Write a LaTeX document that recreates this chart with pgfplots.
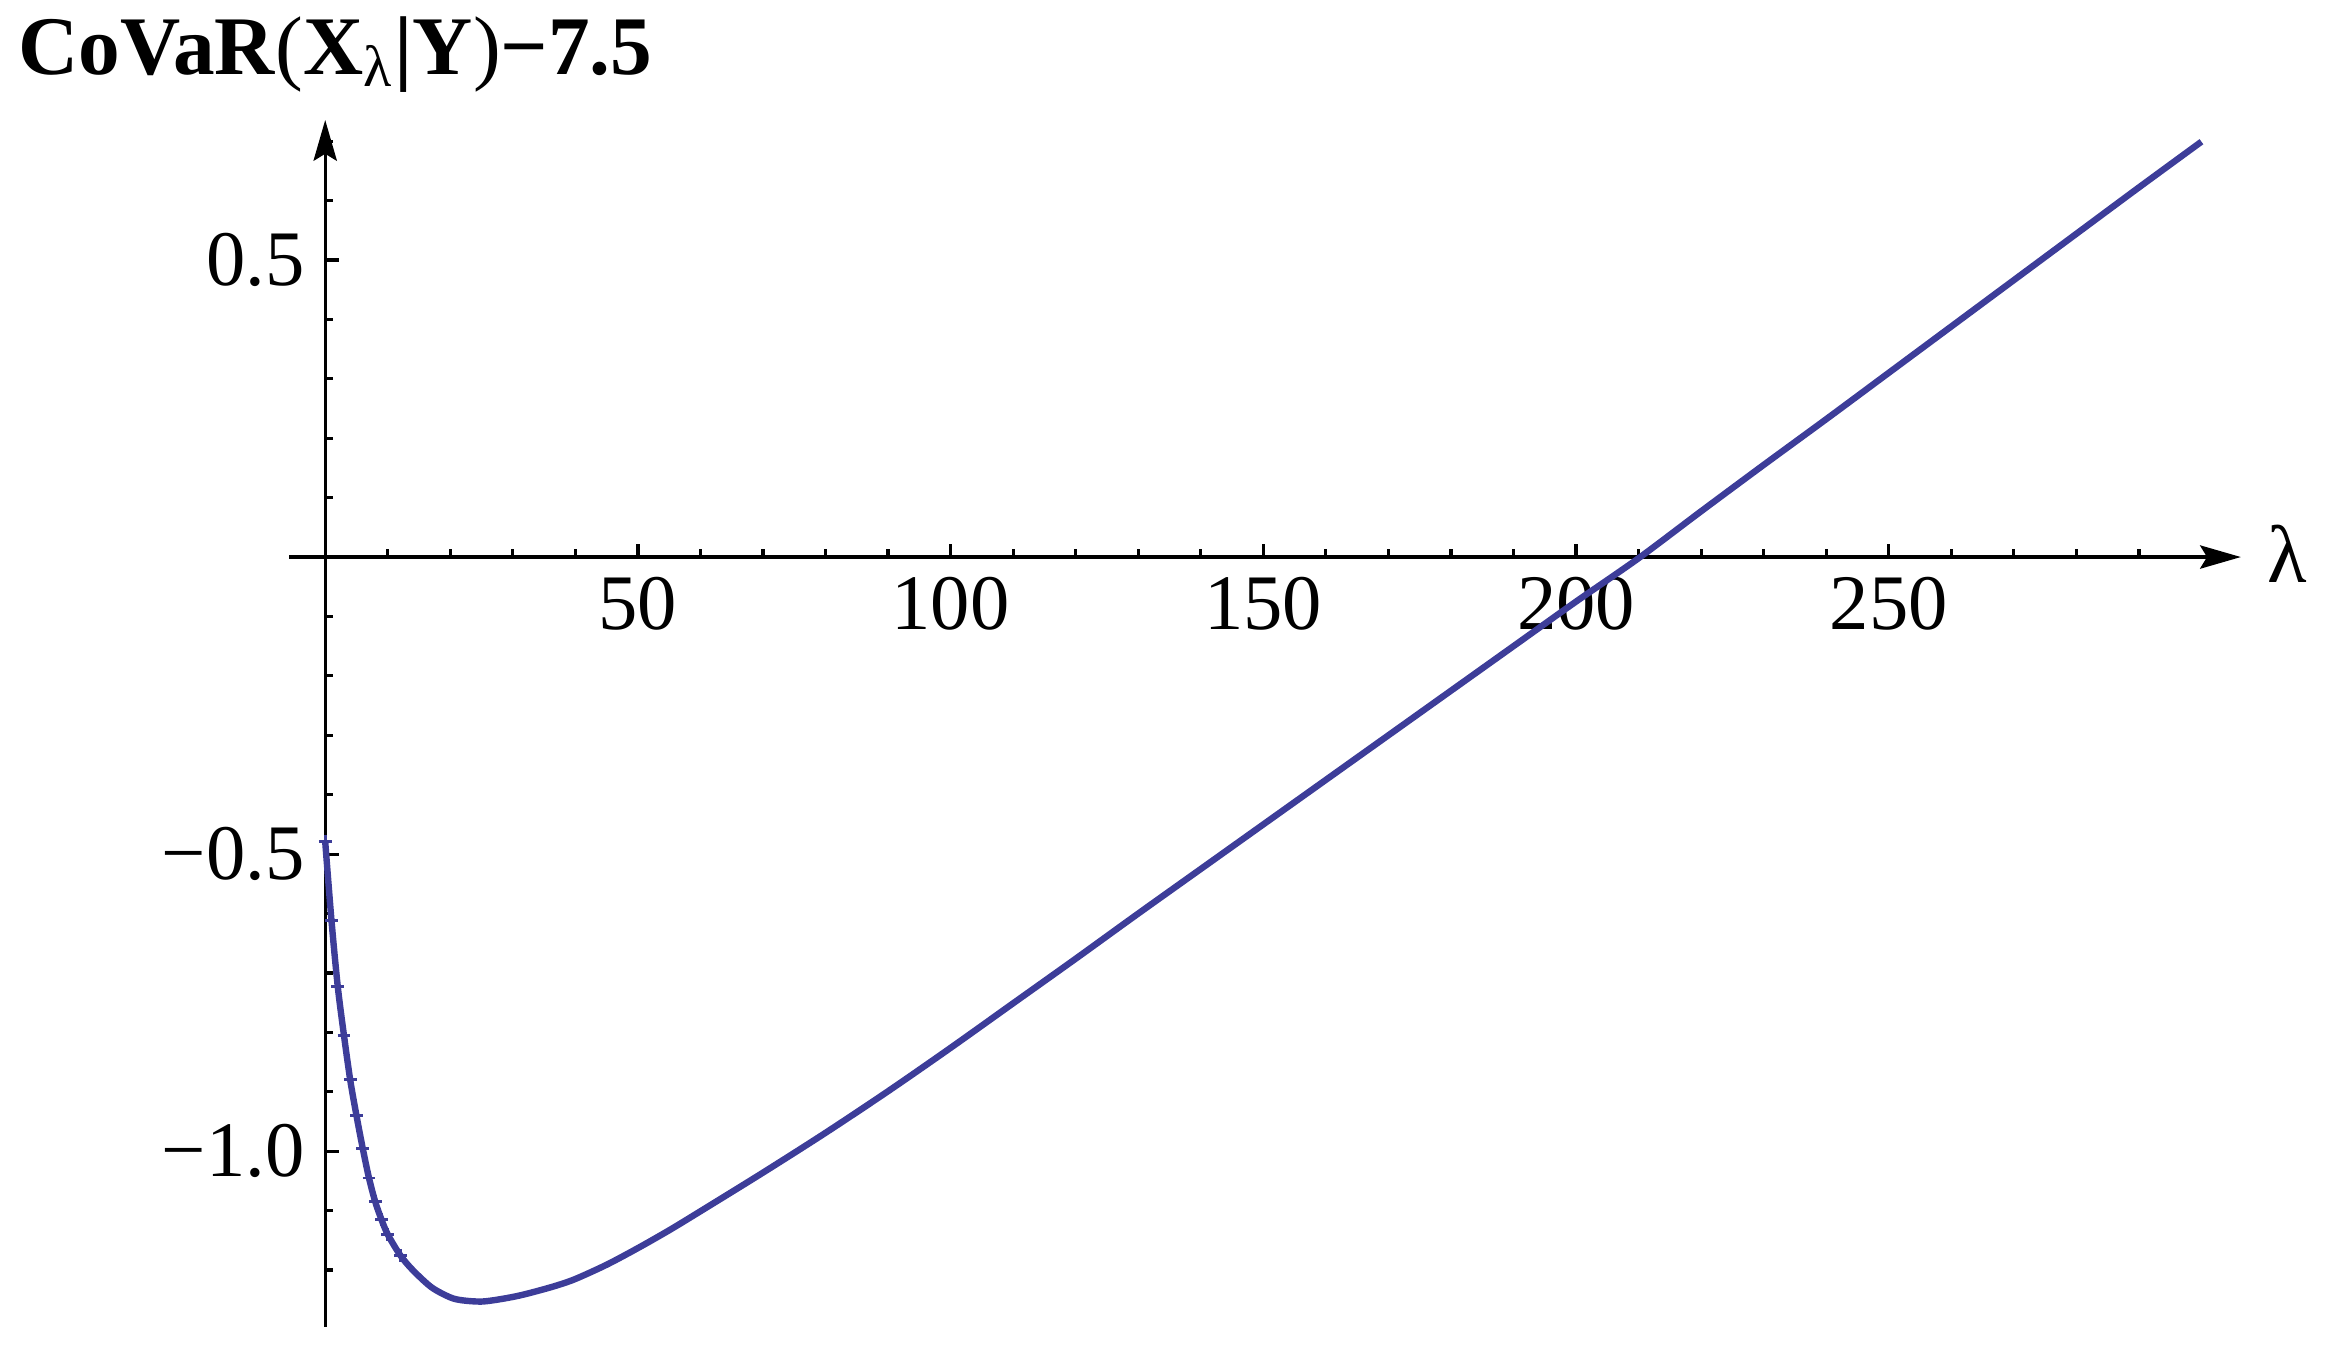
\documentclass[border=0pt]{standalone}
\usepackage{fontspec}
\setmainfont{Liberation Serif}
\usepackage{pgfplots}
\pgfplotsset{compat=1.18}
\usetikzlibrary{arrows.meta}
\definecolor{mmablue}{rgb}{0.24,0.24,0.6}

\pgfplotstableread{
x y
0 -0.479
1 -0.611
2 -0.722
3 -0.805
4 -0.880
5 -0.940
6 -0.995
7 -1.045
8 -1.085
9 -1.115
10 -1.140
12 -1.175
14 -1.200
17 -1.229
20 -1.246
22 -1.251
25 -1.253
28 -1.249
31 -1.243
34 -1.235
37 -1.226
40 -1.215
45 -1.191
50 -1.163
55 -1.133
60 -1.101
70 -1.036
80 -0.969
90 -0.899
100 -0.826
110 -0.751
120 -0.676
130 -0.600
140 -0.525
150 -0.450
160 -0.375
170 -0.300
180 -0.225
190 -0.150
200 -0.075
210 -0.002
220 0.077
230 0.155
240 0.232
250 0.310
260 0.388
270 0.466
280 0.544
290 0.622
300 0.699
}\covar

\begin{document}
\begin{tikzpicture}[font=\fontsize{13.5}{16}\selectfont]
  \begin{axis}[
    x=1.0736pt, y=102pt,
    axis lines=middle,
    axis line style={line width=0.55pt, -{Stealth[length=7pt,width=4pt,inset=1.2pt]}},
    xmin=-5.75, xmax=306.3,
    ymin=-1.295, ymax=0.7355,
    xtick={50,100,150,200,250},
    xticklabels={50,100,150,200,250},
    ytick={-1,-0.5,0.5},
    yticklabels={−1.0,−0.5,0.5},
    minor xtick={10,20,30,40,60,70,80,90,110,120,130,140,160,170,180,190,210,220,230,240,260,270,280,290},
    minor ytick={-1.2,-1.1,-0.9,-0.8,-0.7,-0.6,-0.4,-0.3,-0.2,-0.1,0.1,0.2,0.3,0.4,0.6,0.7},
    tick align=inside,
    major tick length=2.3pt,
    minor tick length=1.4pt,
    tick style={line width=0.55pt, black},
    clip=false,
  ]
    % sampled points show as small crosses only on the steep start
    \addplot[mmablue, line width=1.1pt, smooth, mark=+, mark size=1.1pt,
      mark indices={1,...,12}, mark options={line width=0.5pt}] table[x=x, y=y] {\covar};

    \node[anchor=base west, inner sep=0pt] at (axis cs:-49.2,0.8125)
      {\fontsize{14.3}{17}\selectfont\textbf{CoVaR}(\textbf{X}\textsubscript{λ}\textbf{|Y})\textbf{−7.5}};
    \node[anchor=base west, inner sep=0pt] at (axis cs:310.3,-0.0425) {\fontsize{14}{17}\selectfont λ};

    \coordinate (bl) at (axis cs:-52,-1.335);
    \coordinate (tr) at (axis cs:320.4,0.9375);
  \end{axis}
  \pgfresetboundingbox
  \useasboundingbox (bl) rectangle (tr);
\end{tikzpicture}
\end{document}
